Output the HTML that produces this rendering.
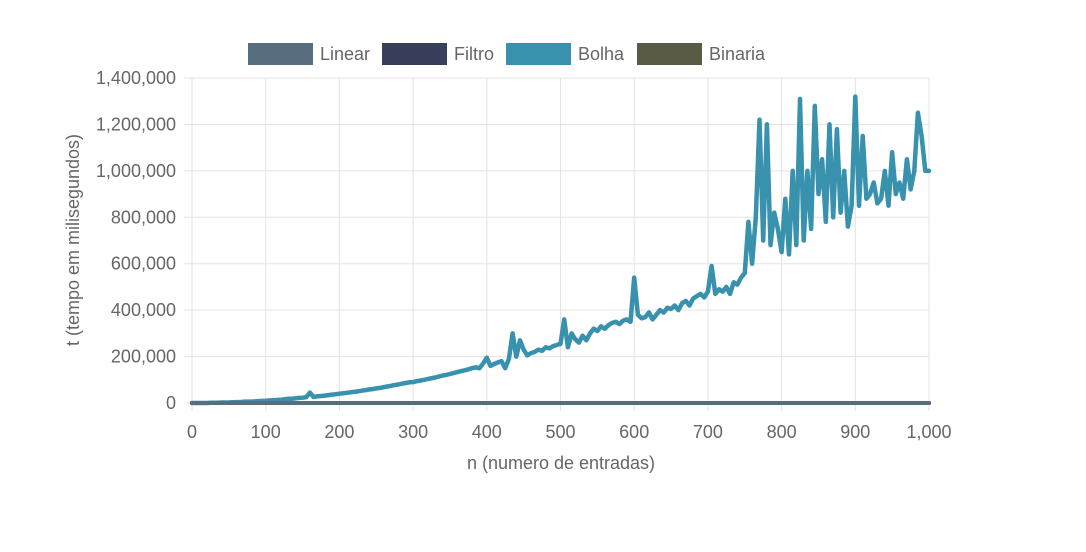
<!DOCTYPE html>
<html><head><meta charset="utf-8"><style>
body{margin:0;background:#fff;font-family:"Liberation Sans",Arial,sans-serif}
svg text{font-family:"Liberation Sans",Arial,sans-serif;fill:#666;font-size:18px}
</style></head><body>
<svg id="c" width="1086" height="547"></svg>
<script>
const xTicks=[0,100,200,300,400,500,600,700,800,900,1000];
const xTickLabels=["0","100","200","300","400","500","600","700","800","900","1,000"];
const yTicks=[0,200000,400000,600000,800000,1000000,1200000,1400000];
const yTickLabels=["0","200,000","400,000","600,000","800,000","1,000,000","1,200,000","1,400,000"];
const nValues=[];for(let i=0;i<=200;i++)nValues.push(i*5);
const bolhaK=[0,0,0,0,0,1,1,1,2,2,2,3,4,4,5,6,6,7,8,9,10,11,12,13,14,16,18,18,20,22,23,25,45,26,29,30,32,34,36,38,
40,42,44,46,48,50,53,55,58,60,63,65,68,71,74,77,80,83,86,89,
90,94,97,100,103,107,110,114,118,121,125,129,133,137,141,145,150,154,150,170,
195,160,168,175,180,150,190,300,200,270,230,205,215,220,230,225,240,235,245,250,
255,360,240,300,275,260,290,270,300,320,310,330,320,335,345,350,340,355,360,350,
540,380,365,370,390,360,380,400,390,410,405,420,400,430,440,420,450,460,470,455,
480,590,470,490,480,500,470,520,510,540,560,780,600,800,1220,700,1200,680,820,750,
650,880,640,1000,680,1310,700,1000,750,1280,900,1050,780,1200,800,1180,820,1000,760,850,
1320,850,1150,880,900,950,860,880,1000,850,1080,900,950,880,1050,920,1000,1250,1150,1000,
1000];
const linearK=nValues.map(()=>0);
const series=[{name:"Linear",color:"#566e7e"},{name:"Filtro",color:"#373f5a"},{name:"Bolha",color:"#3891ad"},{name:"Binaria",color:"#5b5b45"}];
const L=192,R=929,T=78,B=403;
const xs=v=>L+(R-L)*v/1000, ys=v=>B-(B-T)*v/1400000;
const svg=document.getElementById('c');const NS="http://www.w3.org/2000/svg";
function mk(t,a,p){const e=document.createElementNS(NS,t);for(const k in a)e.setAttribute(k,a[k]);(p||svg).appendChild(e);return e;}
xTicks.forEach((v,i)=>{const l=mk('line',{x1:xs(v),x2:xs(v),y1:T,y2:B+8,stroke:'#e3e3e3'});


const t=mk('text',{x:xs(v),y:438,'text-anchor':'middle'});t.textContent=xTickLabels[i];

});
yTicks.forEach((v,i)=>{const l=mk('line',{x1:L-8,x2:R,y1:ys(v),y2:ys(v),stroke:'#e3e3e3'});


const t=mk('text',{x:176,y:ys(v)+6,'text-anchor':'end'});t.textContent=yTickLabels[i];

});
function line(vals,color,name,w){const d=vals.map((v,i)=>(i?'L':'M')+xs(nValues[i]).toFixed(1)+','+ys(v).toFixed(1)).join('');
const p=mk('path',{d:d,fill:'none',stroke:color,'stroke-width':w,'stroke-linejoin':'round','stroke-linecap':'round'});

}
line(bolhaK.map(v=>v*1000),series[2].color,'bolha-line',4.5);
line(linearK,series[3].color,'binaria-line',4);
line(linearK,series[1].color,'filtro-line',4);
line(linearK,series[0].color,'linear-line',4);
const legX=[248,382,506,637];
series.forEach((s,i)=>{const r=mk('rect',{x:legX[i],y:43,width:65,height:22,fill:s.color});


const t=mk('text',{x:legX[i]+72,y:60});t.textContent=s.name;

});
const xt=mk('text',{x:561,y:469,'text-anchor':'middle'});xt.textContent="n (numero de entradas)";


const yt=mk('text',{x:79,y:240,'text-anchor':'middle',transform:'rotate(-90 79 240)'});yt.textContent="t (tempo em milisegundos)";


</script>
</body></html>
